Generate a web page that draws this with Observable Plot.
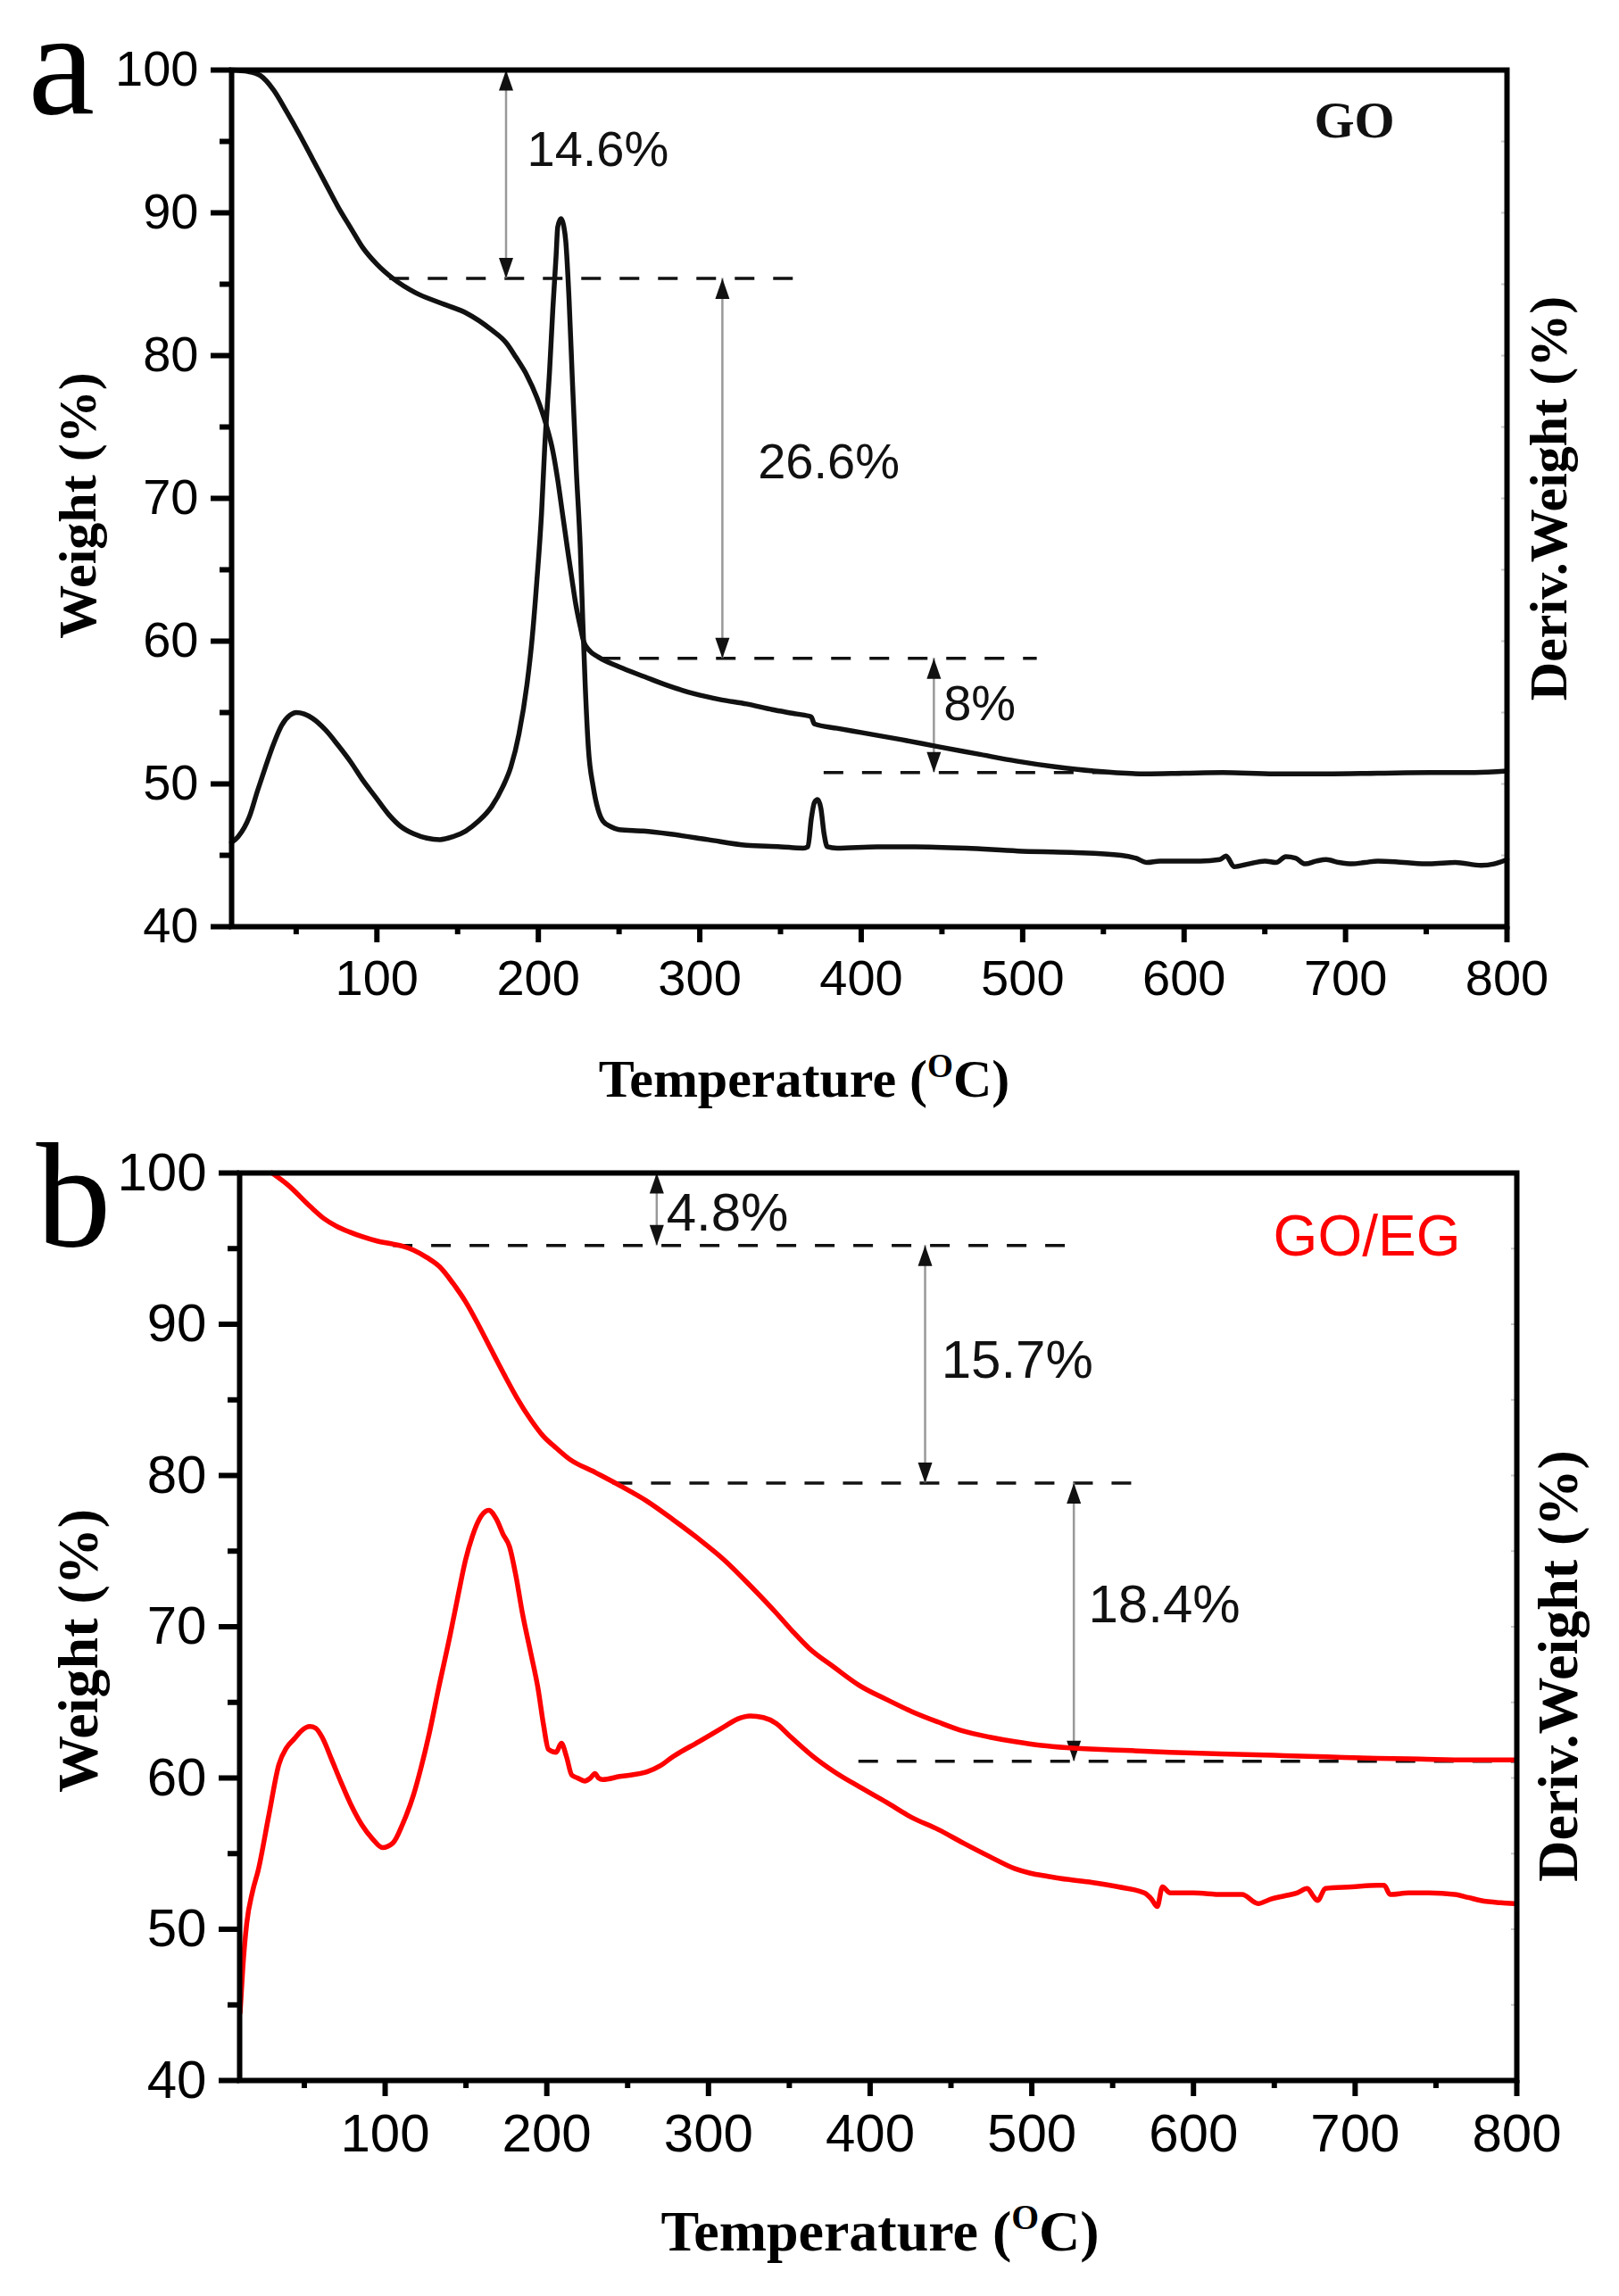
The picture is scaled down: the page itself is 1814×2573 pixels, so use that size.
<!DOCTYPE html>
<html>
<head>
<meta charset="utf-8">
<script src="https://cdn.jsdelivr.net/npm/d3@7"></script>
<script src="https://cdn.jsdelivr.net/npm/@observablehq/plot@0.6"></script>
<style>
  body { margin: 0; background: #fff; }
  svg { display: block; }
</style>
</head>
<body>
<div id="chart"></div>
<script>
// ticks
const xTicks = [100, 200, 300, 400, 500, 600, 700, 800];
const xMinor = [50, 150, 250, 350, 450, 550, 650, 750];
const yTicks = [40, 50, 60, 70, 80, 90, 100];
const yMinor = [45, 55, 65, 75, 85, 95];
const xTitle = "Temperature (OC)";
const yTitle = "Weight (%)";
const y2Title = "Deriv.Weight (%)";

// panel a : GO  (temperature, weight %)
const tgA = [
  [10,100],[20,99.9],[28,99.6],[36,98.6],[44,97.1],[52,95.5],[60,93.8],[68,92.1],[76,90.4],[84,88.9],
  [91,87.6],[100,86.4],[110,85.4],[124,84.4],[139,83.7],[155,83.0],[171,81.8],[180,80.9],[186,79.9],
  [193,78.6],[199,77.1],[205,75.1],[209,73.3],[212,71.3],[215,68.9],[218,66.5],[221,64.2],[223,62.7],
  [226,61.0],[228,60.0],[232,59.3],[237,58.9],[250,58.2],[266,57.5],[280,56.9],[297,56.3],[313,55.9],
  [329,55.6],[345,55.2],[360,54.9],[369,54.7],[371,54.2],[385,53.9],[400,53.6],[425,53.1],[448,52.6],
  [472,52.1],[496,51.6],[520,51.2],[544,50.9],[576,50.7],[600,50.75],[624,50.8],[656,50.7],[688,50.7],
  [720,50.75],[752,50.8],[780,50.8],[800,50.9]
];
const dtgA = [
  [10,45.9],[14,46.3],[21,47.7],[26,49.5],[31,51.2],[36,52.8],[41,54.1],[46,54.8],[50,55.0],[55,54.9],
  [60,54.6],[68,53.8],[76,52.7],[84,51.5],[91,50.3],[99,49.1],[107,47.9],[115,47.0],[123,46.5],[131,46.2],
  [139,46.1],[147,46.3],[155,46.7],[163,47.4],[171,48.4],[178,49.8],[183,51.2],[188,53.5],[193,57.0],
  [196,60.0],[199,64.1],[202,69.0],[204,73.7],[207,79.0],[209,83.3],[211,87.0],[212,89.0],[214,89.6],
  [215.5,89.2],[217,88.0],[219,84.0],[221,78.5],[223.5,72.0],[226,66.5],[227.5,61.5],[229,57.0],
  [231,52.5],[234,49.8],[237,48.2],[240,47.4],[245,47.0],[250,46.8],[265,46.7],[281,46.5],[305,46.1],
  [329,45.7],[350,45.6],[364,45.5],[367,45.6],[369,47.5],[371,48.7],[373,48.9],[375,48.3],[377,46.5],
  [379,45.6],[385,45.5],[410,45.6],[433,45.6],[465,45.5],[497,45.3],[530,45.2],[561,45.0],[570,44.8],
  [577,44.5],[585,44.6],[593,44.6],[610,44.6],[622,44.7],[626,44.95],[631,44.2],[640,44.4],[650,44.6],
  [657,44.5],[663,44.9],[669,44.8],[675,44.4],[682,44.6],[688,44.7],[696,44.5],[704,44.4],[712,44.5],
  [720,44.6],[736,44.5],[752,44.4],[768,44.5],[784,44.3],[792,44.4],[800,44.7]
];
const dashesA = [
  {y: 85.4, x1: 108, x2: 359},
  {y: 58.8, x1: 239, x2: 509},
  {y: 50.8, x1: 377, x2: 560}
];
const arrowsA = [
  {x: 180, top: 100, bottom: 85.4},
  {x: 314, top: 85.4, bottom: 58.8},
  {x: 445, top: 58.8, bottom: 50.8}
];
const notesA = [
  {x: 193, y: 94.4, text: "14.6%"},
  {x: 336, y: 72.5, text: "26.6%"},
  {x: 451, y: 55.6, text: "8%"}
];

// panel b : GO/EG
const tgB = [
  [30,100],[40,99.2],[53.5,97.8],[62,97.0],[69.6,96.5],[78,96.1],[85.6,95.8],[95,95.5],[104.8,95.3],
  [111,95.15],[117.6,94.9],[126,94.4],[133.7,93.8],[142,92.7],[149.7,91.5],[158,89.9],[165.7,88.3],
  [174,86.6],[181.7,85.1],[190,83.7],[197.8,82.6],[206,81.8],[213.8,81.1],[230,80.2],[245.8,79.3],
  [262,78.3],[277.9,77.1],[294,75.8],[309.9,74.4],[326,72.7],[342,70.9],[352,69.7],[362,68.6],[378,67.3],
  [393.6,66.1],[410,65.2],[425.6,64.4],[442,63.7],[457.6,63.1],[474,62.7],[489.6,62.4],[506,62.15],
  [521.6,62.0],[553,61.85],[585.6,61.7],[617,61.6],[649.6,61.5],[682,61.4],[713.6,61.3],[740,61.25],
  [770,61.2],[798.4,61.2]
];
const dtgB = [
  [10.3,44.5],[12,47.5],[14.4,50.4],[18,52.5],[21.5,53.9],[28,57.5],[34.3,60.9],[39,62.0],[43.9,62.6],
  [48,63.1],[53.5,63.4],[57,63.3],[61.5,62.6],[67,61.2],[72.8,59.7],[79,58.2],[85.6,56.9],[92,56.0],
  [98.4,55.4],[104.8,55.7],[111,57.0],[117.6,58.9],[122,60.6],[127.2,62.9],[133,65.9],[140.1,69.4],
  [145,72.0],[149.7,74.4],[154,76.0],[159.3,77.3],[164.1,77.7],[168.9,77.1],[173,76.1],[176.9,75.3],
  [181,73.3],[184.9,70.9],[190,68.3],[194.6,65.9],[198,63.5],[201,61.9],[205.8,61.7],[209,62.3],
  [212.2,61.4],[215.4,60.2],[219,60.0],[223.4,59.8],[227,60.0],[229.8,60.3],[232,60.0],[234.6,59.9],
  [245,60.1],[261.9,60.4],[270,60.8],[277.9,61.4],[294,62.4],[309.9,63.4],[318,63.9],[325.9,64.1],
  [334,64.0],[342,63.6],[350,62.8],[363.8,61.5],[378,60.4],[393.6,59.4],[410,58.4],[425.6,57.4],
  [442,56.6],[457.6,55.7],[474,54.8],[489.6,54.0],[499.2,53.7],[510,53.5],[521.6,53.3],[537,53.1],
  [553.6,52.8],[569.6,52.4],[574,52.0],[577.6,51.5],[580.8,52.8],[585.6,52.4],[600,52.4],[617.6,52.3],
  [630,52.3],[640,51.7],[648,52.0],[656,52.2],[664,52.4],[670.4,52.7],[674,52.2],[676.8,51.9],
  [681.6,52.7],[698,52.8],[713.6,52.9],[718,52.9],[721.6,52.3],[733,52.4],[745.6,52.4],[761.6,52.3],
  [770,52.1],[777.6,51.9],[790,51.75],[798.4,51.7]
];
const dashesB = [
  {y: 95.2, x1: 105, x2: 522},
  {y: 79.5, x1: 241, x2: 564},
  {y: 61.1, x1: 393, x2: 800}
];
const arrowsB = [
  {x: 268, top: 100, bottom: 95.2},
  {x: 434, top: 95.2, bottom: 79.5},
  {x: 526, top: 79.5, bottom: 61.1}
];
const notesB = [
  {x: 274, y: 97.3, text: "4.8%"},
  {x: 444, y: 87.6, text: "15.7%"},
  {x: 535, y: 71.4, text: "18.4%"}
];

const sans = "Liberation Sans, Arial, sans-serif";
const serif = "Liberation Serif, Times New Roman, serif";

// narrow filled arrow heads, tip at the anchor point
const headUp = {draw(ctx) { ctx.moveTo(0, 0); ctx.lineTo(8, 23); ctx.lineTo(-8, 23); ctx.closePath(); }};
const headDown = {draw(ctx) { ctx.moveTo(0, 0); ctx.lineTo(8, -23); ctx.lineTo(-8, -23); ctx.closePath(); }};

function panel(p) {
  const chart = Plot.plot({
    width: 1814,
    height: p.height,
    marginLeft: p.ml, marginRight: p.mr, marginTop: p.mt, marginBottom: p.mb,
    x: {domain: [10, 800]},
    y: {domain: [40, 100]},
    style: {fontFamily: sans, fontSize: p.fs + "px", background: "white", color: "black", overflow: "visible"},
    marks: [
      Plot.axisX(xTicks, {tickSize: 18, strokeWidth: 6, tickPadding: 19, label: null, fontSize: p.fs}),
      Plot.axisX(xMinor, {tickSize: 9, strokeWidth: 6, tickFormat: () => "", label: null}),
      Plot.axisY(yTicks, {tickSize: 23, strokeWidth: 6, tickPadding: 14, label: null, fontSize: p.fs}),
      Plot.axisY(yMinor, {tickSize: 13, strokeWidth: 6, tickFormat: () => "", label: null}),
      Plot.axisY(d3.range(45, 100, 5), {anchor: "right", tickSize: -7, stroke: "#c8c8c8", strokeWidth: 2, tickFormat: () => "", label: null}),
      Plot.ruleY(p.dashes, {y: "y", x1: "x1", x2: "x2", stroke: "#111", strokeWidth: 3.5, strokeDasharray: "22,21"}),
      Plot.ruleX(p.arrows, {x: "x", y1: "top", y2: "bottom", stroke: "#999", strokeWidth: 2.5}),
      Plot.dot(p.arrows, {x: "x", y: "top", symbol: headUp, fill: "#111", stroke: null}),
      Plot.dot(p.arrows, {x: "x", y: "bottom", symbol: headDown, fill: "#111", stroke: null}),
      Plot.line(p.dtg, {x: d => d[0], y: d => d[1], stroke: p.color, strokeWidth: 5.5, curve: "monotone-x"}),
      Plot.line(p.tg, {x: d => d[0], y: d => d[1], stroke: p.color, strokeWidth: 5.5, curve: "monotone-x"}),
      Plot.frame({stroke: "black", strokeWidth: 6}),
      Plot.text(p.notes, {x: "x", y: "y", text: "text", textAnchor: "start", fontSize: p.fs, fill: "#111"}),
      Plot.text([p.name], {frameAnchor: "top-right", dx: p.nameDx, dy: p.nameDy, lineAnchor: "bottom", textAnchor: "middle",
        fontFamily: p.nameFont, fontWeight: p.nameWeight, fontSize: p.nameSize, fill: p.color}),
      Plot.text([p.letter], {frameAnchor: "top-left", dx: p.letterDx, dy: p.letterDy, lineAnchor: "bottom",
        textAnchor: "start", fontFamily: serif, fontSize: 168}),
      Plot.text([xTitle], {frameAnchor: "bottom", dx: p.xtDx, dy: 190, lineAnchor: "bottom", textAnchor: "middle",
        fontFamily: serif, fontWeight: "bold", fontSize: p.tfs}),
      Plot.text([yTitle], {frameAnchor: "left", dx: p.ytDx, dy: p.ytDy, rotate: -90, textAnchor: "middle",
        fontFamily: serif, fontWeight: "bold", fontSize: p.tfs}),
      Plot.text([y2Title], {frameAnchor: "right", dx: 47, dy: p.y2Dy, rotate: -90, textAnchor: "middle",
        fontFamily: serif, fontWeight: "bold", fontSize: p.tfs})
    ]
  });
  // superscript O in the temperature unit
  d3.select(chart).selectAll("text").filter(function() { return this.textContent === xTitle; })
    .each(function() {
      const t = d3.select(this);
      t.text(null);
      t.append("tspan").text("Temperature (");
      t.append("tspan").attr("font-size", p.tfs * 0.62).attr("dy", -p.tfs * 0.36).text("O");
      t.append("tspan").attr("dy", p.tfs * 0.36).text("C)");
    });
  return chart;
}

const chartA = panel({
  height: 1250, ml: 259, mr: 126, mt: 78, mb: 212, fs: 56, tfs: 60,
  tg: tgA, dtg: dtgA, color: "#111", dashes: dashesA, arrows: arrowsA, notes: notesA,
  name: "GO", nameFont: serif, nameWeight: "bold", nameSize: 58, nameDx: -171, nameDy: 75,
  letter: "a", letterDx: -228, letterDy: 48,
  xtDx: -73, ytDx: -172, ytDy: 8, y2Dy: 0
});
const chartB = panel({
  height: 1323, ml: 268, mr: 115, mt: 64, mb: 242, fs: 60, tfs: 64,
  tg: tgB, dtg: dtgB, color: "#ff0000", dashes: dashesB, arrows: arrowsB, notes: notesB,
  name: "GO/EG", nameFont: sans, nameWeight: "normal", nameSize: 64, nameDx: -168, nameDy: 92,
  letter: "b", letterDx: -228, letterDy: 81,
  xtDx: 2, ytDx: -180, ytDy: 27, y2Dy: 44
});

d3.select("#chart").append(() => chartA);
d3.select("#chart").append(() => chartB);
</script>
</body>
</html>
